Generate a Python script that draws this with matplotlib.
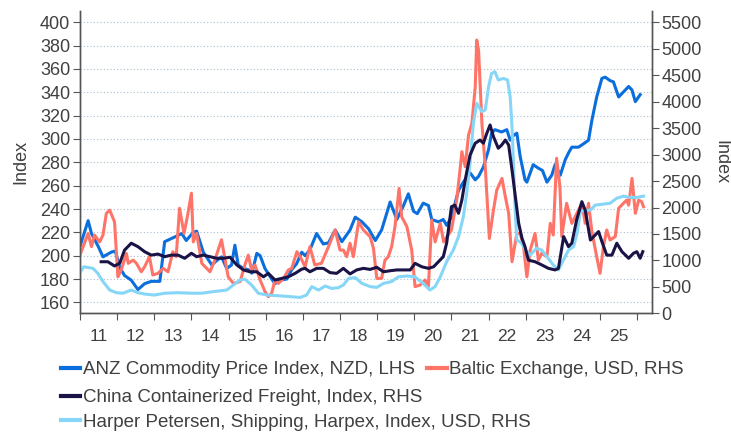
import matplotlib.pyplot as plt
from matplotlib.lines import Line2D

plt.rcParams['font.family'] = ['Liberation Sans', 'DejaVu Sans']

# ANZ Commodity Price Index, NZD (left axis)
anz_t = [2011.00, 2011.22, 2011.31, 2011.49, 2011.62, 2011.84, 2011.95, 2012.07, 2012.20, 2012.38,
         2012.56, 2012.74, 2012.92, 2013.15, 2013.28, 2013.55, 2013.74, 2013.86, 2014.05, 2014.14,
         2014.32, 2014.55, 2014.65, 2014.81, 2014.95, 2015.08, 2015.17, 2015.26, 2015.40, 2015.53,
         2015.63, 2015.76, 2015.85, 2015.98, 2016.16, 2016.25, 2016.39, 2016.57, 2016.70, 2016.83,
         2016.97, 2017.06, 2017.19, 2017.37, 2017.55, 2017.69, 2017.87, 2018.05, 2018.27, 2018.41,
         2018.59, 2018.77, 2018.95, 2019.12, 2019.35, 2019.53, 2019.71, 2019.84, 2019.98, 2020.08,
         2020.24, 2020.38, 2020.47, 2020.65, 2020.78, 2020.87, 2021.00, 2021.19, 2021.32, 2021.50,
         2021.64, 2021.73, 2021.86, 2022.00, 2022.08, 2022.17, 2022.35, 2022.49, 2022.58, 2022.67,
         2022.76, 2022.85, 2022.98, 2023.03, 2023.20, 2023.34, 2023.45, 2023.57, 2023.70, 2023.79,
         2023.93, 2024.06, 2024.15, 2024.24, 2024.42, 2024.56, 2024.69, 2024.78, 2024.91, 2025.05,
         2025.14, 2025.27, 2025.36, 2025.50, 2025.59, 2025.68, 2025.77, 2025.86, 2025.95, 2026.08]
anz_v = [208, 230, 219, 208, 199, 203, 204, 190, 183, 179,
         171, 176, 178, 178, 212, 216, 219, 213, 220, 221,
         203, 192, 195, 199, 189, 192, 209, 192, 189, 188,
         185, 202, 200, 189, 180, 176, 179, 180, 188, 193,
         203, 200, 205, 219, 210, 211, 222, 212, 222, 233,
         229, 223, 213, 222, 246, 231, 243, 253, 238, 236,
         245, 243, 231, 229, 231, 226, 233, 256, 263, 271,
         265, 268, 276, 291, 305, 308, 306, 308, 299, 303,
         305, 285, 265, 263, 278, 275, 273, 263, 269, 278,
         269, 282, 288, 293, 293, 296, 299, 316, 336, 352,
         353, 350, 349, 336, 339, 342, 345, 342, 332, 338]

# Baltic Exchange, USD (right axis)
baltic_t = [2011.00, 2011.22, 2011.31, 2011.39, 2011.53, 2011.62, 2011.71, 2011.80, 2011.93, 2012.02,
            2012.11, 2012.25, 2012.30, 2012.43, 2012.52, 2012.65, 2012.74, 2012.87, 2012.96, 2013.10,
            2013.24, 2013.37, 2013.50, 2013.59, 2013.68, 2013.80, 2013.89, 2014.00, 2014.05, 2014.14,
            2014.28, 2014.50, 2014.63, 2014.81, 2014.90, 2014.99, 2015.13, 2015.31, 2015.44, 2015.53,
            2015.62, 2015.71, 2015.85, 2015.98, 2016.07, 2016.16, 2016.25, 2016.34, 2016.48, 2016.61,
            2016.70, 2016.84, 2016.93, 2017.06, 2017.19, 2017.32, 2017.50, 2017.69, 2017.87, 2018.00,
            2018.09, 2018.18, 2018.27, 2018.36, 2018.50, 2018.63, 2018.72, 2018.81, 2018.90, 2018.99,
            2019.12, 2019.21, 2019.30, 2019.39, 2019.48, 2019.59, 2019.66, 2019.80, 2019.93, 2020.02,
            2020.16, 2020.29, 2020.38, 2020.47, 2020.56, 2020.70, 2020.79, 2020.88, 2021.00, 2021.14,
            2021.23, 2021.28, 2021.37, 2021.46, 2021.55, 2021.64, 2021.68, 2021.73, 2021.82, 2021.91,
            2022.02, 2022.13, 2022.22, 2022.36, 2022.45, 2022.54, 2022.63, 2022.76, 2022.85, 2022.94,
            2023.03, 2023.12, 2023.25, 2023.34, 2023.43, 2023.57, 2023.66, 2023.74, 2023.83, 2023.92,
            2023.97, 2024.10, 2024.24, 2024.33, 2024.51, 2024.60, 2024.69, 2024.78, 2024.91, 2025.00,
            2025.09, 2025.18, 2025.27, 2025.41, 2025.50, 2025.63, 2025.72, 2025.77, 2025.86, 2025.95,
            2026.04, 2026.12, 2026.17]
baltic_v = [1100, 1510, 1260, 1480, 1350, 1480, 1890, 1950, 1730, 690,
            820, 1130, 945, 1005, 945, 785, 880, 1070, 725, 755,
            850, 785, 1165, 1070, 1985, 1510, 1825, 2270, 1350, 1510,
            945, 785, 1005, 1390, 1040, 690, 565, 600, 915, 1100,
            820, 915, 630, 410, 315, 380, 630, 565, 660, 820,
            850, 1165, 1070, 880, 1260, 915, 945, 1260, 1575, 1195,
            1195, 1070, 1325, 1070, 1730, 1575, 1510, 1450, 1230, 660,
            660, 1005, 1070, 1260, 1640, 2360, 1825, 1640, 1195, 505,
            535, 630, 505, 1765, 1350, 1700, 1350, 1450, 1575, 2140,
            2710, 3055, 2770, 3370, 3590, 4280, 5165, 4975, 3590, 2770,
            1415, 1950, 2330, 2550, 2205, 1890, 975, 1510, 1510, 1260,
            690, 1195, 1510, 1005, 1135, 1070, 1700, 1480, 2930, 2390,
            1450, 2080, 1700, 1825, 2080, 1700, 2080, 1545, 1070, 755,
            1260, 1575, 1385, 1450, 1985, 2080, 2140, 2045, 2550, 1890,
            2140, 2110, 2015]

# China Containerized Freight Index (right axis)
china_t = [2011.57, 2011.75, 2011.93, 2012.07, 2012.20, 2012.38, 2012.56, 2012.74, 2012.92, 2013.10,
           2013.28, 2013.46, 2013.64, 2013.82, 2014.00, 2014.14, 2014.32, 2014.50, 2014.68, 2014.86,
           2015.04, 2015.22, 2015.40, 2015.58, 2015.76, 2015.94, 2016.07, 2016.25, 2016.43, 2016.61,
           2016.79, 2016.97, 2017.06, 2017.19, 2017.37, 2017.55, 2017.73, 2017.91, 2018.09, 2018.27,
           2018.45, 2018.63, 2018.81, 2018.99, 2019.17, 2019.35, 2019.53, 2019.71, 2019.89, 2020.02,
           2020.20, 2020.38, 2020.52, 2020.65, 2020.78, 2020.87, 2021.00, 2021.09, 2021.19, 2021.28,
           2021.37, 2021.50, 2021.64, 2021.77, 2021.86, 2021.95, 2022.04, 2022.13, 2022.26, 2022.35,
           2022.45, 2022.54, 2022.63, 2022.72, 2022.81, 2022.90, 2022.98, 2023.07, 2023.25, 2023.43,
           2023.61, 2023.79, 2023.88, 2024.02, 2024.15, 2024.24, 2024.37, 2024.51, 2024.60, 2024.74,
           2024.87, 2024.96, 2025.05, 2025.18, 2025.32, 2025.45, 2025.59, 2025.77, 2025.90, 2025.99,
           2026.08, 2026.15]
china_v = [975, 975, 895, 945, 1195, 1325, 1260, 1165, 1100, 1120,
           1070, 1100, 1100, 1040, 1135, 1070, 1100, 1070, 1040, 1040,
           1060, 915, 820, 785, 785, 690, 755, 630, 660, 690,
           755, 835, 850, 785, 850, 850, 770, 755, 850, 745,
           820, 850, 830, 870, 785, 805, 820, 820, 820, 945,
           880, 850, 880, 975, 1070, 1325, 2015, 2045, 1890, 2140,
           2520, 2990, 3215, 3275, 3215, 3400, 3560, 3340, 3120, 3180,
           3275, 3180, 2710, 2205, 1700, 1415, 1260, 1005, 975, 915,
           850, 820, 850, 1450, 1260, 1325, 1765, 2110, 1950, 1385,
           1480, 1545, 1355, 1100, 1100, 1325, 1165, 1040, 1135, 1165,
           1040, 1165]

# Harper Petersen, Shipping, Harpex Index, USD (right axis)
harpex_t = [2011.00, 2011.10, 2011.35, 2011.48, 2011.62, 2011.80, 2011.98, 2012.16, 2012.38, 2012.56,
            2012.74, 2013.00, 2013.28, 2013.64, 2014.00, 2014.28, 2014.59, 2014.95, 2015.13, 2015.31,
            2015.44, 2015.62, 2015.80, 2016.03, 2016.39, 2016.66, 2016.93, 2017.10, 2017.24, 2017.42,
            2017.60, 2017.78, 2017.96, 2018.09, 2018.23, 2018.41, 2018.59, 2018.81, 2018.99, 2019.17,
            2019.39, 2019.57, 2019.80, 2020.02, 2020.07, 2020.24, 2020.42, 2020.56, 2020.70, 2020.87,
            2021.05, 2021.19, 2021.32, 2021.41, 2021.50, 2021.59, 2021.68, 2021.82, 2021.91, 2022.00,
            2022.08, 2022.17, 2022.26, 2022.40, 2022.51, 2022.58, 2022.63, 2022.67, 2022.71, 2022.76,
            2022.89, 2022.98, 2023.12, 2023.29, 2023.43, 2023.57, 2023.74, 2023.88, 2023.97, 2024.15,
            2024.29, 2024.38, 2024.47, 2024.60, 2024.74, 2024.87, 2025.10, 2025.27, 2025.45, 2025.63,
            2025.81, 2025.99, 2026.17]
harpex_v = [770, 880, 850, 756, 600, 440, 390, 380, 440, 390,
            365, 345, 380, 390, 380, 380, 410, 440, 535, 630,
            645, 535, 380, 345, 330, 315, 300, 345, 505, 440,
            515, 470, 485, 535, 660, 675, 565, 505, 490, 565,
            600, 690, 705, 690, 660, 565, 440, 505, 690, 975,
            1195, 1450, 1825, 2270, 2835, 3590, 3970, 3810, 3845, 4285,
            4535, 4565, 4410, 4440, 4410, 4095, 3530, 2835, 2015, 1385,
            1325, 1200, 1100, 1230, 1195, 1070, 915, 820, 945, 1195,
            1260, 1510, 1920, 1950, 1950, 2045, 2065, 2080, 2175, 2215,
            2190, 2190, 2215]

left_ticks = list(range(160, 401, 20))
right_ticks = list(range(0, 5501, 500))
years = list(range(2011, 2026))

txt = '#404040'
fs = 13
fig = plt.figure(figsize=(7.31, 4.33), dpi=100)
ax = fig.add_axes([0.1094, 0.2764, 0.7821, 0.6982])
ax2 = ax.twinx()

ax.plot(anz_t, anz_v, color='#0A6EDC', lw=2.2, solid_joinstyle='round')
ax2.plot(baltic_t, baltic_v, color='#FF7468', lw=2.2, solid_joinstyle='round')
ax2.plot(harpex_t, harpex_v, color='#86D6F7', lw=2.2, solid_joinstyle='round')
ax2.plot(china_t, china_v, color='#1A1446', lw=2.2, solid_joinstyle='round')

ax.set_xlim(2011, 2026.39)
ax.set_ylim(150.6, 409.7)
ax2.set_ylim(0, 5714)

ax.set_yticks(left_ticks)
ax2.set_yticks(right_ticks)
ax.grid(axis='y', color='#a9bccc', linestyle=(0, (1, 2)), linewidth=0.8)
ax.set_axisbelow(True)

ax.set_xticks(list(range(2011, 2027)))
ax.set_xticklabels([])
ax.set_xticks([y + 0.5 for y in years], minor=True)
ax.set_xticklabels([str(y)[2:] for y in years], minor=True)
ax.tick_params(axis='x', which='major', length=5, color='#555555', direction='out')
ax.tick_params(axis='x', which='minor', length=0, pad=11, labelsize=fs - 0.5, labelcolor=txt)
ax.tick_params(axis='y', length=5, color='#555555', labelsize=fs, labelcolor=txt, pad=2)
ax2.tick_params(axis='y', length=5, color='#555555', labelsize=fs, labelcolor=txt, pad=2)

for a in (ax, ax2):
    a.spines['top'].set_visible(False)
    for s in ('left', 'right', 'bottom'):
        a.spines[s].set_color('#555555')
        a.spines[s].set_linewidth(1.0)

ax.set_ylabel('Index', fontsize=fs, color=txt, labelpad=8)
ax2.set_ylabel('Index', fontsize=fs, color=txt, rotation=270, labelpad=20)

entries = [
    ('ANZ Commodity Price Index, NZD, LHS', '#0A6EDC', 0.083, 0.146),
    ('Baltic Exchange, USD, RHS', '#FF7468', 0.584, 0.146),
    ('China Containerized Freight, Index, RHS', '#1A1446', 0.083, 0.081),
    ('Harper Petersen, Shipping, Harpex, Index, USD, RHS', '#86D6F7', 0.083, 0.025),
]
for label, col, x0, y0 in entries:
    h = Line2D([], [], color=col, lw=3)
    leg = fig.legend([h], [label], loc='center left', bbox_to_anchor=(x0, y0),
                     frameon=False, fontsize=13.5, handlelength=1.05, handletextpad=0.12,
                     borderpad=0, borderaxespad=0)
    for t in leg.get_texts():
        t.set_color(txt)

fig.savefig('out.png', dpi=100)
